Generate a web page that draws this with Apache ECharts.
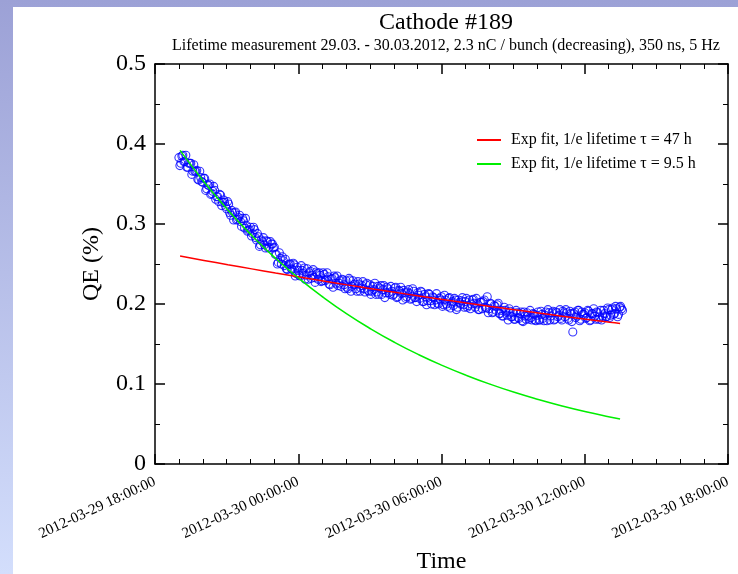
<!DOCTYPE html>
<html>
<head>
<meta charset="utf-8">
<script src="https://cdn.jsdelivr.net/npm/echarts@6/dist/echarts.min.js"></script>
<style>
  html, body { margin: 0; padding: 0; }
  body {
    width: 738px; height: 574px; position: relative; overflow: hidden;
    background: linear-gradient(to bottom, #9ca1d6, #d3defc);
  }
  #panel { position: absolute; left: 13px; top: 7px; right: 0; bottom: 0; background: #fff; }
  #chart { position: absolute; left: 0; top: 0; width: 738px; height: 574px; }
</style>
</head>
<body>
<div id="panel"></div>
<div id="chart"></div>
<script>
  // x values are hours after 2012-03-29 18:00:00
  var tickLabels = ['2012-03-29 18:00:00', '2012-03-30 00:00:00', '2012-03-30 06:00:00',
    '2012-03-30 12:00:00', '2012-03-30 18:00:00'];

  // measured QE (%), one reading every 5 min from 19:00
  var qeStart = 1.0;
  var qeStep = 5 / 60;
  var qeValues = [
    0.383, 0.376, 0.386, 0.378, 0.371, 0.376, 0.376, 0.366, 0.366, 0.367, 0.355, 0.358,
    0.352, 0.357, 0.344, 0.348, 0.337, 0.341, 0.342, 0.334, 0.328, 0.336, 0.327, 0.327,
    0.319, 0.325, 0.311, 0.314, 0.314, 0.305, 0.308, 0.303, 0.307, 0.295, 0.298, 0.292,
    0.296, 0.288, 0.293, 0.280, 0.284, 0.274, 0.278, 0.274, 0.279, 0.270, 0.278, 0.275,
    0.271, 0.262, 0.252, 0.257, 0.259, 0.248, 0.244, 0.249, 0.250, 0.243, 0.249, 0.238,
    0.242, 0.235, 0.242, 0.245, 0.236, 0.231, 0.241, 0.236, 0.233, 0.240, 0.231, 0.236,
    0.229, 0.237, 0.231, 0.234, 0.224, 0.232, 0.235, 0.226, 0.223, 0.229, 0.231, 0.224,
    0.229, 0.219, 0.230, 0.222, 0.224, 0.219, 0.228, 0.216, 0.223, 0.219, 0.224, 0.217,
    0.224, 0.216, 0.218, 0.212, 0.222, 0.220, 0.212, 0.223, 0.214, 0.219, 0.212, 0.216,
    0.212, 0.221, 0.209, 0.216, 0.213, 0.217, 0.207, 0.215, 0.213, 0.207, 0.216, 0.208,
    0.214, 0.207, 0.215, 0.203, 0.209, 0.204, 0.212, 0.200, 0.208, 0.205, 0.201, 0.207,
    0.209, 0.199, 0.205, 0.197, 0.208, 0.201, 0.198, 0.205, 0.196, 0.202, 0.204, 0.199,
    0.203, 0.196, 0.205, 0.200, 0.206, 0.196, 0.200, 0.193, 0.202, 0.203, 0.196, 0.209,
    0.194, 0.200, 0.190, 0.197, 0.199, 0.188, 0.192, 0.185, 0.192, 0.186, 0.194, 0.184,
    0.189, 0.181, 0.189, 0.182, 0.190, 0.178, 0.185, 0.189, 0.181, 0.183, 0.188, 0.180,
    0.186, 0.180, 0.191, 0.182, 0.186, 0.179, 0.189, 0.185, 0.191, 0.181, 0.189, 0.186,
    0.182, 0.191, 0.184, 0.189, 0.180, 0.188, 0.165, 0.190, 0.185, 0.192, 0.181, 0.187,
    0.189, 0.183, 0.191, 0.180, 0.188, 0.185, 0.190, 0.181, 0.192, 0.185, 0.188, 0.184,
    0.193, 0.186, 0.195, 0.188, 0.194, 0.187, 0.197, 0.192
  ];
  // readings in between, 2.5 min after each of the above
  var qeStartB = 1.0 + 2.5 / 60;
  var qeValuesB = [
    0.373, 0.385, 0.378, 0.386, 0.371, 0.376, 0.362, 0.374, 0.366, 0.356, 0.366, 0.353,
    0.357, 0.342, 0.349, 0.350, 0.338, 0.347, 0.331, 0.334, 0.337, 0.323, 0.330, 0.322,
    0.328, 0.314, 0.317, 0.305, 0.315, 0.306, 0.311, 0.297, 0.304, 0.307, 0.291, 0.293,
    0.285, 0.296, 0.283, 0.288, 0.272, 0.280, 0.283, 0.270, 0.278, 0.271, 0.275, 0.270,
    0.262, 0.250, 0.264, 0.250, 0.254, 0.256, 0.243, 0.250, 0.244, 0.251, 0.235, 0.246,
    0.236, 0.248, 0.238, 0.231, 0.244, 0.239, 0.232, 0.243, 0.227, 0.238, 0.239, 0.228,
    0.239, 0.229, 0.239, 0.225, 0.231, 0.221, 0.233, 0.235, 0.226, 0.222, 0.230, 0.219,
    0.221, 0.232, 0.216, 0.229, 0.225, 0.216, 0.225, 0.220, 0.228, 0.215, 0.226, 0.216,
    0.212, 0.222, 0.226, 0.215, 0.212, 0.223, 0.218, 0.208, 0.221, 0.214, 0.222, 0.211,
    0.220, 0.208, 0.217, 0.221, 0.205, 0.214, 0.209, 0.218, 0.206, 0.219, 0.208, 0.203,
    0.211, 0.216, 0.203, 0.212, 0.199, 0.213, 0.204, 0.209, 0.199, 0.213, 0.200, 0.205,
    0.197, 0.211, 0.200, 0.207, 0.195, 0.203, 0.207, 0.193, 0.205, 0.200, 0.208, 0.196,
    0.207, 0.198, 0.194, 0.205, 0.201, 0.207, 0.193, 0.202, 0.194, 0.205, 0.195, 0.189,
    0.201, 0.189, 0.198, 0.192, 0.201, 0.188, 0.185, 0.196, 0.190, 0.180, 0.191, 0.184,
    0.181, 0.192, 0.183, 0.188, 0.179, 0.190, 0.181, 0.185, 0.192, 0.180, 0.187, 0.179,
    0.190, 0.180, 0.187, 0.179, 0.190, 0.193, 0.180, 0.189, 0.180, 0.190, 0.184, 0.193,
    0.180, 0.189, 0.193, 0.182, 0.191, 0.178, 0.188, 0.183, 0.192, 0.179, 0.190, 0.187,
    0.182, 0.192, 0.179, 0.188, 0.194, 0.181, 0.189, 0.184, 0.180, 0.192, 0.184, 0.195,
    0.183, 0.193, 0.187, 0.197, 0.184, 0.196, 0.194
  ];

  // fit curves
  var fitHours = [1.05, 2.05, 3.05, 4.05, 5.05, 6.05, 7.05, 8.05, 9.05, 10.05,
    11.05, 12.05, 13.05, 14.05, 15.05, 16.05, 17.05, 18.05, 19.05, 19.48];
  var fit47 = [0.260, 0.2545, 0.2491, 0.2439, 0.2387, 0.2337, 0.2288, 0.2239, 0.2192, 0.2146,
    0.2101, 0.2056, 0.2013, 0.1970, 0.1929, 0.1888, 0.1848, 0.1809, 0.1771, 0.1757];
  var fit95 = [0.392, 0.3528, 0.3175, 0.2857, 0.2571, 0.2314, 0.2083, 0.1874, 0.1687, 0.1518,
    0.1366, 0.1230, 0.1107, 0.0996, 0.0896, 0.0807, 0.0726, 0.0653, 0.0588, 0.0562];

  var fontFam = '"Liberation Serif", "DejaVu Serif", serif';
  var black = '#000';

  var chart = echarts.init(document.getElementById('chart'));

  function pairs(xs, ys) {
    return ys.map(function (v, i) { return [xs[i], v]; });
  }
  function series5min(start, vals) {
    return vals.map(function (v, i) { return [start + i * qeStep, v]; });
  }
  var qeData = series5min(qeStart, qeValues).concat(series5min(qeStartB, qeValuesB));

  function xAxisCfg(pos, showLabel) {
    return {
      type: 'value',
      position: pos,
      min: 0,
      max: 24,
      interval: 6,
      axisLine: { show: true, onZero: false, lineStyle: { color: black, width: 1.5 } },
      axisTick: { show: true, inside: true, length: 10, lineStyle: { color: black, width: 1.5 } },
      minorTick: { show: true, splitNumber: 6, length: 5, lineStyle: { color: black, width: 1 } },
      splitLine: { show: false },
      axisLabel: {
        show: showLabel,
        rotate: 25,
        margin: 17,
        color: black,
        fontSize: 15,
        fontFamily: fontFam,
        formatter: function (v) { return tickLabels[Math.round(v / 6)]; }
      }
    };
  }

  function yAxisCfg(pos, showLabel) {
    return {
      type: 'value',
      position: pos,
      min: 0,
      max: 0.5,
      interval: 0.1,
      axisLine: { show: true, onZero: false, lineStyle: { color: black, width: 1.5 } },
      axisTick: { show: true, inside: true, length: 10, lineStyle: { color: black, width: 1.5 } },
      minorTick: { show: true, splitNumber: 2, length: 5, lineStyle: { color: black, width: 1 } },
      splitLine: { show: false },
      axisLabel: {
        show: showLabel,
        margin: 9,
        color: black,
        fontSize: 24,
        fontFamily: fontFam,
        formatter: function (v) { return String(Math.round(v * 10) / 10); }
      }
    };
  }

  var xBottom = xAxisCfg('bottom', true);
  xBottom.name = 'Time';
  xBottom.nameLocation = 'middle';
  xBottom.nameGap = 86;
  xBottom.nameTextStyle = { color: black, fontSize: 24, fontFamily: fontFam };

  var yLeft = yAxisCfg('left', true);
  yLeft.name = 'QE (%)';
  yLeft.nameLocation = 'middle';
  yLeft.nameGap = 51;
  yLeft.nameTextStyle = { color: black, fontSize: 24, fontFamily: fontFam };

  chart.setOption({
    animation: false,
    title: [{
      text: 'Cathode #189',
      left: 441,
      top: 6,
      textAlign: 'center',
      textStyle: { color: black, fontSize: 24, fontWeight: 'normal', fontFamily: fontFam }
    }, {
      text: 'Lifetime measurement 29.03. - 30.03.2012, 2.3 nC / bunch (decreasing), 350 ns, 5 Hz',
      left: 441,
      top: 33,
      textAlign: 'center',
      textStyle: { color: black, fontSize: 16, fontWeight: 'normal', fontFamily: fontFam }
    }],
    legend: {
      orient: 'vertical',
      left: 472,
      top: 127,
      itemWidth: 24,
      itemHeight: 2,
      itemGap: 8,
      icon: 'rect',
      textStyle: { color: black, fontSize: 16, fontFamily: fontFam, padding: [0, 0, 0, 5] },
      data: ['Exp fit, 1/e lifetime \u03c4 = 47 h', 'Exp fit, 1/e lifetime \u03c4 = 9.5 h']
    },
    grid: { left: 155, right: 10, top: 64, bottom: 110, containLabel: false, outerBoundsMode: 'none' },
    xAxis: [xBottom, xAxisCfg('top', false)],
    yAxis: [yLeft, yAxisCfg('right', false)],
    series: [{
      name: 'QE',
      type: 'scatter',
      symbol: 'circle',
      symbolSize: 8,
      z: 1,
      itemStyle: { color: 'rgba(0,0,0,0)', borderColor: '#0000ff', borderWidth: 1.1 },
      data: qeData
    }, {
      name: 'Exp fit, 1/e lifetime \u03c4 = 47 h',
      type: 'line',
      smooth: true,
      symbol: 'none',
      z: 3,
      itemStyle: { color: '#ff0000' },
      lineStyle: { color: '#ff0000', width: 1.5 },
      data: pairs(fitHours, fit47)
    }, {
      name: 'Exp fit, 1/e lifetime \u03c4 = 9.5 h',
      type: 'line',
      smooth: true,
      symbol: 'none',
      z: 3,
      itemStyle: { color: '#00ee00' },
      lineStyle: { color: '#00ee00', width: 1.5 },
      data: pairs(fitHours, fit95)
    }]
  });
</script>
</body>
</html>
